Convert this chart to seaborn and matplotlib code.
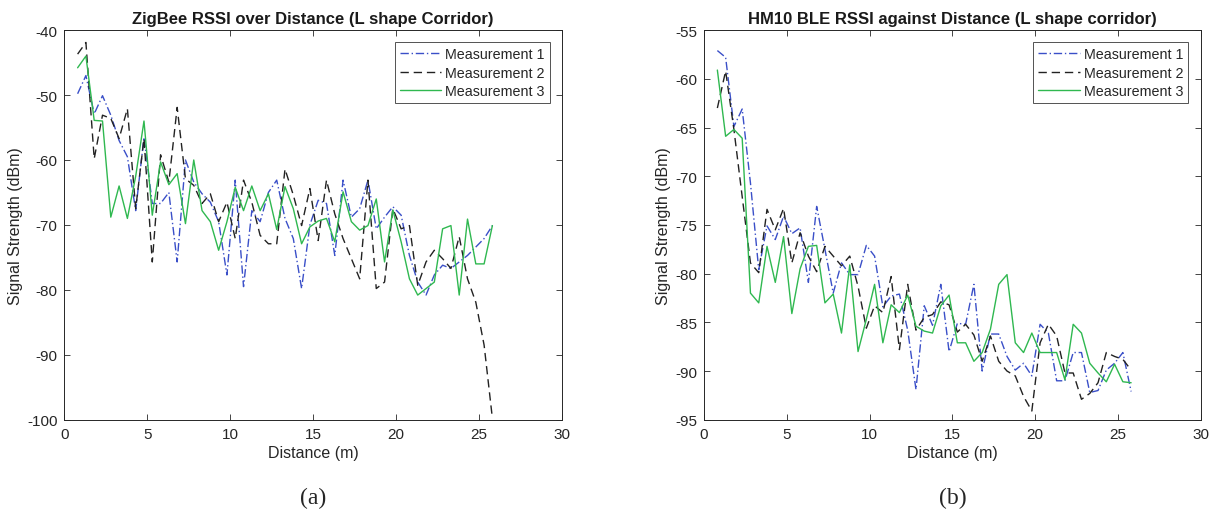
import numpy as np
import pandas as pd
import matplotlib
matplotlib.use("Agg")
import matplotlib.pyplot as plt
import seaborn as sns

# distance grid (m), 0.5 m steps
distance = [0.8, 1.3, 1.8, 2.3, 2.8, 3.3, 3.8, 4.3, 4.8, 5.3,
            5.8, 6.3, 6.8, 7.3, 7.8, 8.3, 8.8, 9.3, 9.8, 10.3,
            10.8, 11.3, 11.8, 12.3, 12.8, 13.3, 13.8, 14.3, 14.8, 15.3,
            15.8, 16.3, 16.8, 17.3, 17.8, 18.3, 18.8, 19.3, 19.8, 20.3,
            20.8, 21.3, 21.8, 22.3, 22.8, 23.3, 23.8, 24.3, 24.8, 25.3,
            25.8]

# ZigBee (a)
zb_m1 = [-49.8, -47.0, -52.9, -50.1, -53.1, -57.0, -59.5, -67.8, -56.5, -66.7,
         -66.7, -65.0, -75.7, -60.0, -63.4, -65.2, -66.5, -69.5, -77.7, -63.1,
         -79.5, -67.8, -69.5, -65.0, -63.1, -69.0, -72.1, -79.8, -70.0, -66.2,
         -66.7, -74.7, -63.1, -68.8, -67.5, -63.1, -70.6, -68.8, -67.2, -68.5,
         -74.7, -78.8, -80.8, -77.7, -76.2, -76.7, -75.7, -74.7, -73.4, -72.1,
         -70.1]
zb_m2 = [-43.7, -41.9, -59.8, -53.1, -53.6, -56.7, -52.1, -67.5, -56.7, -75.7,
         -59.2, -63.4, -51.9, -62.9, -63.9, -66.7, -65.2, -69.5, -66.5, -72.1,
         -63.1, -66.5, -71.6, -72.9, -72.9, -61.4, -65.4, -70.1, -64.4, -72.4,
         -63.1, -68.3, -72.1, -75.2, -78.3, -63.1, -79.8, -78.8, -67.5, -70.6,
         -70.1, -79.3, -75.7, -73.9, -75.2, -76.7, -71.8, -78.3, -81.9, -88.5,
         -99.8]
zb_m3 = [-45.8, -44.0, -53.9, -54.0, -68.8, -64.0, -69.0, -62.5, -54.0, -68.5,
         -60.3, -63.8, -62.1, -69.8, -60.0, -67.8, -69.5, -73.9, -69.5, -64.2,
         -67.8, -64.0, -67.8, -65.2, -70.7, -64.1, -67.5, -72.9, -70.3, -69.4,
         -69.0, -72.6, -64.9, -69.5, -70.8, -70.1, -66.0, -75.7, -67.7, -72.6,
         -78.3, -80.8, -79.8, -78.8, -70.6, -70.1, -80.8, -69.1, -76.0, -76.0,
         -70.1]

# HM10 BLE (b)
ble_m1 = [-57.1, -57.8, -64.9, -63.1, -70.7, -79.6, -75.1, -76.5, -74.1, -75.9,
          -75.3, -80.9, -73.1, -77.5, -82.0, -78.9, -80.1, -80.1, -77.1, -78.2,
          -83.4, -82.3, -82.1, -85.8, -91.9, -83.3, -85.3, -81.1, -88.0, -85.1,
          -85.2, -81.1, -90.0, -86.2, -86.2, -88.5, -89.9, -89.2, -90.5, -85.2,
          -86.1, -91.0, -91.0, -88.1, -88.1, -92.2, -92.0, -89.9, -89.2, -88.1,
          -92.1]
ble_m2 = [-63.0, -59.2, -65.2, -72.1, -78.9, -79.9, -73.4, -75.5, -73.3, -78.9,
          -75.8, -78.2, -79.8, -77.2, -78.2, -79.2, -78.2, -81.3, -85.6, -83.3,
          -84.0, -80.3, -87.8, -81.1, -85.8, -84.5, -84.2, -82.9, -83.2, -86.0,
          -85.2, -86.3, -89.0, -86.4, -89.0, -90.0, -90.5, -92.6, -94.1, -87.1,
          -85.2, -86.4, -90.2, -90.2, -92.9, -92.3, -91.2, -88.1, -88.5, -88.8,
          -89.9]
ble_m3 = [-59.1, -65.9, -65.2, -66.1, -82.0, -83.0, -77.2, -80.9, -76.2, -84.1,
          -79.5, -77.2, -77.1, -83.0, -82.1, -86.1, -79.1, -88.0, -84.7, -81.1,
          -87.1, -83.2, -84.0, -82.2, -85.4, -85.9, -86.1, -83.3, -82.2, -87.1,
          -87.1, -89.0, -88.1, -85.7, -81.1, -80.1, -87.1, -88.1, -86.1, -88.1,
          -88.1, -88.1, -90.9, -85.2, -86.1, -89.2, -90.2, -91.1, -89.3, -91.1,
          -91.2]

labels = ["Measurement 1", "Measurement 2", "Measurement 3"]
colors = {"Measurement 1": "#3a4fc8", "Measurement 2": "#222222", "Measurement 3": "#2fb850"}
dashes = {"Measurement 1": (6, 2, 1, 2), "Measurement 2": (6, 3.5), "Measurement 3": ""}


def long_df(series):
    rows = []
    for lab, vals in zip(labels, series):
        rows.append(pd.DataFrame({"Distance": distance, "RSSI": vals, "Measurement": lab}))
    return pd.concat(rows, ignore_index=True)


sns.set_theme(style="ticks")
plt.rcParams["font.family"] = ["Liberation Sans", "DejaVu Sans"]
plt.rcParams["axes.unicode_minus"] = False

fig = plt.figure(figsize=(12.14, 5.10), dpi=100)
ax1 = fig.add_axes([0.053, 0.175, 0.410, 0.764])
ax2 = fig.add_axes([0.580, 0.175, 0.409, 0.764])

panels = [
    (ax1, [zb_m1, zb_m2, zb_m3], "ZigBee RSSI over Distance (L shape Corridor)",
     (-100, -40), np.arange(-100, -39, 10), "(a)"),
    (ax2, [ble_m1, ble_m2, ble_m3], "HM10 BLE RSSI against Distance (L shape corridor)",
     (-95, -55), np.arange(-95, -54, 5), "(b)"),
]

for ax, series, title, ylim, yticks, tag in panels:
    df = long_df(series)
    sns.lineplot(data=df, x="Distance", y="RSSI", hue="Measurement", style="Measurement",
                 palette=colors, dashes=dashes, linewidth=1.0, errorbar=None, ax=ax)
    ax.set_xlim(0, 30)
    ax.set_ylim(*ylim)
    ax.set_xticks(np.arange(0, 31, 5))
    ax.set_yticks(yticks)
    ax.tick_params(direction="in", length=4, width=0.6, top=True, right=True,
                   labelsize=11, colors="#262626", pad=5)
    for s in ax.spines.values():
        s.set_color("#262626")
        s.set_linewidth(0.7)
    ax.set_title(title, fontsize=12, fontweight="bold", color="#1a1a1a", pad=5)
    ax.set_xlabel("Distance (m)", fontsize=11.5, color="#262626", labelpad=3)
    ax.set_ylabel("Signal Strength (dBm)", fontsize=11.5, color="#262626", labelpad=3)
    h, l = ax.get_legend_handles_labels()
    leg = ax.legend(h, l, loc="upper right", fontsize=10.3, frameon=True, fancybox=False,
                    edgecolor="#262626", borderaxespad=0.85, handlelength=2.9,
                    handletextpad=0.3, labelspacing=0.3, borderpad=0.35)
    leg.get_frame().set_linewidth(0.7)
    ax.text(0.5, -0.2, tag, transform=ax.transAxes, ha="center", va="center",
            fontsize=17, family=["Liberation Serif", "DejaVu Serif"])

fig.savefig("out.png", dpi=100)
